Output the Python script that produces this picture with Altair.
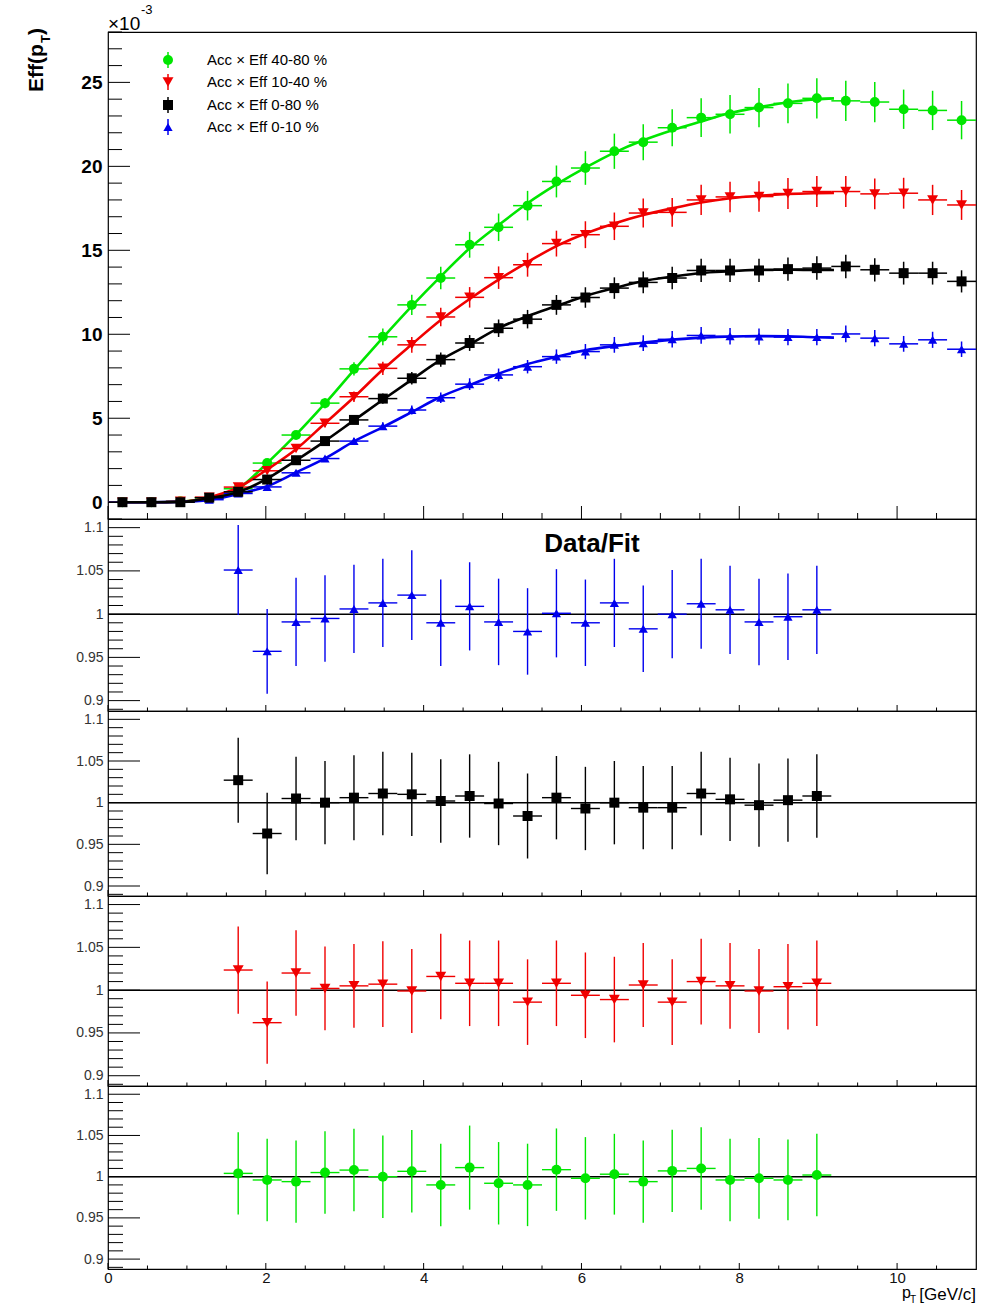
import altair as alt
import pandas as pd

FONT = "Liberation Sans"

# ---------------- data ----------------
pt_centers = [0.183, 0.55, 0.917, 1.283, 1.65, 2.017, 2.383, 2.75, 3.117, 3.483,
              3.85, 4.217, 4.583, 4.95, 5.317, 5.683, 6.05, 6.417, 6.783, 7.15,
              7.517, 7.883, 8.25, 8.617, 8.983, 9.35, 9.717, 10.083, 10.45, 10.817]
half_bin = 0.1833
fit_x = pt_centers[:25] + [9.2]
ratio_x = pt_centers[4:25]

labels = ["Acc \u00d7 Eff 40-80 %", "Acc \u00d7 Eff 10-40 %", "Acc \u00d7 Eff 0-80 %", "Acc \u00d7 Eff 0-10 %"]

eff_4080 = [0.0, 0.0, 0.05, 0.25, 0.8, 2.33, 4.0, 5.9, 7.94, 9.85, 11.75, 13.35, 15.33, 16.37, 17.66,
            19.1, 19.9, 20.9, 21.44, 22.3, 22.9, 23.1, 23.5, 23.75, 24.05, 23.9, 23.83, 23.4, 23.33, 22.75]
err_4080 = [0.0, 0.0, 0.01, 0.03, 0.06, 0.12, 0.2, 0.3, 0.4, 0.5, 0.6, 0.67, 0.77, 0.82, 0.88,
            0.95, 1.0, 1.05, 1.07, 1.1, 1.15, 1.15, 1.17, 1.18, 1.2, 1.2, 1.2, 1.17, 1.17, 1.14]
fit_4080 = [0.0, 0.0, 0.03, 0.25, 0.8, 2.33, 4.02, 5.88, 7.87, 9.8, 11.68, 13.45, 15.12, 16.5, 17.8,
            18.92, 19.92, 20.82, 21.55, 22.15, 22.67, 23.17, 23.52, 23.82, 24.0, 24.05]

eff_1040 = [0.0, 0.0, 0.05, 0.3, 0.9, 1.87, 3.2, 4.7, 6.28, 7.97, 9.37, 11.03, 12.2, 13.37, 14.14,
            15.4, 15.93, 16.43, 17.22, 17.26, 18.0, 18.18, 18.2, 18.38, 18.5, 18.5, 18.36, 18.4, 18.0, 17.7]
err_1040 = [0.0, 0.0, 0.01, 0.02, 0.05, 0.09, 0.16, 0.24, 0.31, 0.4, 0.47, 0.55, 0.61, 0.67, 0.71,
            0.77, 0.8, 0.82, 0.86, 0.86, 0.9, 0.91, 0.91, 0.92, 0.92, 0.92, 0.92, 0.92, 0.9, 0.89]
fit_1040 = [0.0, 0.0, 0.03, 0.3, 0.88, 1.95, 3.15, 4.7, 6.25, 7.9, 9.4, 10.85, 12.1, 13.25, 14.3,
            15.25, 16.0, 16.6, 17.1, 17.5, 17.85, 18.1, 18.25, 18.35, 18.4, 18.42]

eff_0080 = [0.0, 0.0, 0.0, 0.27, 0.62, 1.35, 2.5, 3.64, 4.9, 6.17, 7.38, 8.49, 9.48, 10.36, 10.9,
            11.75, 12.19, 12.75, 13.09, 13.35, 13.8, 13.8, 13.8, 13.88, 13.94, 14.04, 13.84, 13.64, 13.64, 13.15]
err_0080 = [0.0, 0.0, 0.0, 0.02, 0.03, 0.07, 0.13, 0.18, 0.25, 0.31, 0.37, 0.42, 0.47, 0.52, 0.55,
            0.59, 0.61, 0.64, 0.65, 0.67, 0.69, 0.69, 0.69, 0.69, 0.7, 0.7, 0.69, 0.68, 0.68, 0.66]
fit_0080 = [0.0, 0.0, 0.02, 0.25, 0.6, 1.4, 2.49, 3.64, 4.87, 6.1, 7.3, 8.47, 9.4, 10.37, 11.08,
            11.68, 12.28, 12.75, 13.17, 13.43, 13.65, 13.75, 13.84, 13.84, 13.83, 13.83]

eff_0010 = [0.0, 0.0, 0.02, 0.15, 0.52, 0.91, 1.75, 2.6, 3.64, 4.53, 5.49, 6.22, 7.03, 7.58, 8.07,
            8.67, 8.97, 9.37, 9.47, 9.7, 9.93, 9.88, 9.86, 9.83, 9.83, 10.02, 9.77, 9.43, 9.67, 9.11]
err_0010 = [0.0, 0.0, 0.0, 0.01, 0.03, 0.05, 0.09, 0.13, 0.18, 0.23, 0.27, 0.31, 0.35, 0.38, 0.4,
            0.43, 0.45, 0.47, 0.47, 0.49, 0.5, 0.49, 0.49, 0.49, 0.49, 0.5, 0.49, 0.47, 0.48, 0.46]
fit_0010 = [0.0, 0.0, 0.02, 0.14, 0.49, 0.95, 1.77, 2.61, 3.62, 4.47, 5.37, 6.28, 6.97, 7.65, 8.23,
            8.66, 9.05, 9.3, 9.5, 9.68, 9.8, 9.86, 9.9, 9.88, 9.82, 9.8]

ratio_0010 = [1.051, 0.957, 0.991, 0.995, 1.006, 1.013, 1.022, 0.99, 1.009, 0.991, 0.98,
              1.001, 0.99, 1.013, 0.983, 1.0, 1.012, 1.005, 0.991, 0.997, 1.005]
rerr_0010 = [0.052, 0.049, 0.051, 0.05, 0.051, 0.051, 0.052, 0.05, 0.051, 0.05, 0.05,
             0.051, 0.05, 0.051, 0.05, 0.051, 0.052, 0.051, 0.05, 0.05, 0.051]
ratio_0080 = [1.027, 0.963, 1.005, 1.0, 1.006, 1.011, 1.01, 1.002, 1.008, 0.999, 0.984,
              1.006, 0.993, 1.0, 0.994, 0.994, 1.011, 1.004, 0.997, 1.003, 1.008]
rerr_0080 = [0.051, 0.049, 0.05, 0.05, 0.051, 0.05, 0.05, 0.05, 0.05, 0.05, 0.051,
             0.05, 0.05, 0.05, 0.05, 0.05, 0.05, 0.05, 0.05, 0.05, 0.05]
ratio_1040 = [1.0235, 0.962, 1.02, 1.002, 1.005, 1.007, 0.999, 1.016, 1.008, 1.008, 0.986,
              1.008, 0.994, 0.989, 1.006, 0.986, 1.01, 1.005, 0.999, 1.004, 1.008]
rerr_1040 = [0.051, 0.048, 0.05, 0.049, 0.049, 0.05, 0.049, 0.05, 0.05, 0.05, 0.05,
             0.05, 0.05, 0.05, 0.049, 0.05, 0.05, 0.05, 0.049, 0.05, 0.05]
ratio_4080 = [1.004, 0.996, 0.994, 1.005, 1.008, 1.0, 1.0065, 0.99, 1.011, 0.992, 0.99,
              1.0085, 0.998, 1.003, 0.994, 1.007, 1.01, 0.996, 0.998, 0.996, 1.002]
rerr_4080 = [0.05, 0.05, 0.05, 0.05, 0.05, 0.05, 0.05, 0.05, 0.051, 0.05, 0.05,
             0.05, 0.05, 0.049, 0.05, 0.05, 0.05, 0.05, 0.049, 0.049, 0.05]

main_y_ticks = [0, 5, 10, 15, 20, 25]
ratio_y_ticks = [0.9, 0.95, 1.0, 1.05, 1.1]
x_ticks = [0, 2, 4, 6, 8, 10]

# ---------------- style ----------------
COL = {"4080": "#00e600", "1040": "#f00000", "0080": "#000000", "0010": "#0000ee"}
SHAPE = {"4080": "circle", "1040": "triangle-down", "0080": "square", "0010": "triangle-up"}
SIZE = {"4080": 100, "1040": 120, "0080": 100, "0010": 85}

W = 868
H_MAIN = 487
H_RATIO = [192, 185, 190, 183]

xs = alt.Scale(domain=[0, 11], nice=False, zero=False)
ys_main = alt.Scale(domain=[-1, 28], nice=False, zero=False)
ys_ratio = alt.Scale(domain=[0.888, 1.11], nice=False, zero=False)

main_axis = alt.Axis(values=main_y_ticks, ticks=False, domain=False, grid=False, labelFont=FONT,
                     labelFontSize=19, labelFontWeight="bold", labelColor="black", labelPadding=6,
                     title=None, labelOverlap=False)
ratio_axis = alt.Axis(values=ratio_y_ticks, format="~g", ticks=False, domain=False, grid=False,
                      labelFont=FONT, labelFontSize=14, labelColor="#333333", labelPadding=5,
                      title=None, labelOverlap=False)
bottom_axis = alt.Axis(values=x_ticks, ticks=False, domain=False, grid=False, labelFont=FONT,
                       labelFontSize=15, labelColor="#111111", labelPadding=1, labelFlush=False,
                       title=None, labelOverlap=False)


def make_encoders(ys, yaxis, xaxis):
    def X(field):
        return alt.X(field, type="quantitative", scale=xs, axis=xaxis)

    def Y(field):
        return alt.Y(field, type="quantitative", scale=ys, axis=yaxis)
    return X, Y


def series_layers(px, vals, errs, key, X, Y, bar_w=1.5):
    df = pd.DataFrame({"pt": px, "val": vals, "err": errs})
    df["lo"] = df["val"] - df["err"]
    df["hi"] = df["val"] + df["err"]
    df["xlo"] = df["pt"] - half_bin
    df["xhi"] = df["pt"] + half_bin
    base = alt.Chart(df)
    c = COL[key]
    h = base.mark_rule(color=c, strokeWidth=bar_w, clip=True).encode(
        x=X("xlo"), x2="xhi:Q", y=Y("val"))
    v = base.mark_rule(color=c, strokeWidth=bar_w, clip=True).encode(
        x=X("pt"), y=Y("lo"), y2="hi:Q")
    p = base.mark_point(filled=True, shape=SHAPE[key], size=SIZE[key], color=c,
                        opacity=1, strokeWidth=0, clip=True).encode(
        x=X("pt"), y=Y("val"))
    return [h, v, p]


def fit_layer(vals, key, X, Y):
    df = pd.DataFrame({"pt": fit_x, "fit": vals})
    return alt.Chart(df).mark_line(color=COL[key], strokeWidth=2.6, interpolate="monotone",
                                   clip=True).encode(x=X("pt"), y=Y("fit"))


def y_tick_layers(major, minor, Y, lmaj, lmin):
    a = alt.Chart(pd.DataFrame({"v": major})).mark_rule(color="black", strokeWidth=1).encode(
        y=Y("v"), x=alt.value(0), x2=alt.value(lmaj))
    b = alt.Chart(pd.DataFrame({"v": minor})).mark_rule(color="black", strokeWidth=1).encode(
        y=Y("v"), x=alt.value(0), x2=alt.value(lmin))
    return [a, b]


def x_tick_layers(h, lmaj, lmin, X):
    minor = [i * 0.5 for i in range(1, 22) if i % 4 != 0]
    a = alt.Chart(pd.DataFrame({"v": x_ticks})).mark_rule(color="black", strokeWidth=1).encode(
        x=X("v"), y=alt.value(h), y2=alt.value(h - lmaj))
    b = alt.Chart(pd.DataFrame({"v": minor})).mark_rule(color="black", strokeWidth=1).encode(
        x=X("v"), y=alt.value(h), y2=alt.value(h - lmin))
    return [a, b]


def text_layer(txt, x, y, size, weight="normal", align="left", baseline="alphabetic", angle=0, color="black"):
    kw = dict(font=FONT, fontSize=size, fontWeight=weight, align=align, baseline=baseline, color=color)
    if angle:
        kw["angle"] = angle
    return alt.Chart(pd.DataFrame({"t": [txt]})).mark_text(**kw).encode(
        text="t:N", x=alt.value(x), y=alt.value(y))


# ---------------- main panel ----------------
Xm, Ym = make_encoders(ys_main, main_axis, None)
main_minor = [v for v in range(-1, 29) if v % 5 != 0]

main_layers = []
main_layers += y_tick_layers(main_y_ticks, main_minor, Ym, 22, 14)
main_layers += x_tick_layers(H_MAIN, 13, 6, Xm)
for key, eff, err, fit in [("4080", eff_4080, err_4080, fit_4080),
                           ("1040", eff_1040, err_1040, fit_1040),
                           ("0010", eff_0010, err_0010, fit_0010),
                           ("0080", eff_0080, err_0080, fit_0080)]:
    main_layers += series_layers(pt_centers, eff, err, key, Xm, Ym)
    main_layers.append(fit_layer(fit, key, Xm, Ym))

# legend
leg_y = [28, 50, 73, 95]
for i, key in enumerate(["4080", "1040", "0080", "0010"]):
    d = pd.DataFrame({"label": [labels[i]]})
    main_layers.append(alt.Chart(d).mark_rule(color=COL[key], strokeWidth=1.5).encode(
        x=alt.value(60), y=alt.value(leg_y[i] - 8), y2=alt.value(leg_y[i] + 8)))
    main_layers.append(alt.Chart(d).mark_point(filled=True, shape=SHAPE[key], size=SIZE[key],
                                               color=COL[key], opacity=1, strokeWidth=0).encode(
        x=alt.value(60), y=alt.value(leg_y[i])))
    main_layers.append(alt.Chart(d).mark_text(font=FONT, fontSize=15, align="left",
                                              baseline="middle", color="black").encode(
        text="label:N", x=alt.value(99), y=alt.value(leg_y[i])))

# titles of the main panel
main_layers.append(text_layer("\u00d710", 0, -2, 19))
main_layers.append(text_layer("-3", 33, -18, 13))
main_layers.append(text_layer("Eff(p", -65, 60, 21, "bold", angle=270))
main_layers.append(text_layer("T", -58, 11, 13, "bold", angle=270))
main_layers.append(text_layer(")", -65, 3, 21, "bold", angle=270))

main = alt.layer(*main_layers).properties(width=W, height=H_MAIN)

# ---------------- ratio panels ----------------
ratio_minor = [round(0.89 + 0.01 * i, 2) for i in range(22) if (i + 89) % 5 != 0]

ratio_sets = [("0010", ratio_0010, rerr_0010), ("0080", ratio_0080, rerr_0080),
              ("1040", ratio_1040, rerr_1040), ("4080", ratio_4080, rerr_4080)]

ratio_charts = []
for idx, (key, r, re) in enumerate(ratio_sets):
    h = H_RATIO[idx]
    last = idx == len(ratio_sets) - 1
    Xr, Yr = make_encoders(ys_ratio, ratio_axis, bottom_axis if last else None)
    layers = []
    layers += y_tick_layers(ratio_y_ticks, ratio_minor, Yr, 32, 15)
    layers += x_tick_layers(h, 6, 3.5, Xr)
    layers.append(alt.Chart(pd.DataFrame({"one": [1.0]})).mark_rule(color="black", strokeWidth=1.5).encode(
        y=Yr("one")))
    layers += series_layers(ratio_x, r, re, key, Xr, Yr, bar_w=1.4)
    if idx == 0:
        layers.append(text_layer("Data/Fit", 484, 25, 26, "bold", align="center", baseline="middle"))
    if last:
        layers.append(text_layer("[GeV/c]", 868, 214, 17, align="right"))
        layers.append(text_layer("T", 808, 217, 10, align="right"))
        layers.append(text_layer("p", 803, 212, 16, align="right"))
    ratio_charts.append(alt.layer(*layers).properties(width=W, height=h))

chart = alt.vconcat(main, *ratio_charts, spacing=0, bounds="flush").configure_view(
    stroke="black", strokeWidth=1.2).configure_axis(grid=False).properties(
    padding={"left": 25, "top": 3, "right": 5, "bottom": 0}, background="white")

chart.save("out.html", embed_options={"renderer": "svg", "actions": False})
